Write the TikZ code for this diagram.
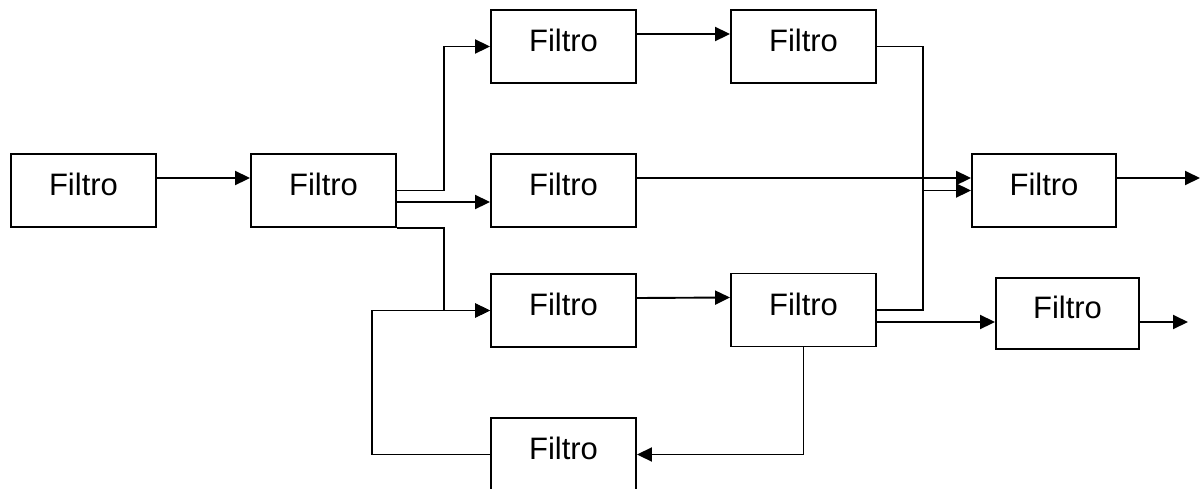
\documentclass[tikz,border=0pt]{standalone}
\usepackage{fontspec}
\setmainfont{Liberation Sans}
\usetikzlibrary{arrows.meta,calc}
\begin{document}
\begin{tikzpicture}[x=1pt,y=-1pt,
  filt/.style={draw,line width=1.9pt,minimum width=145pt,minimum height=73pt,inner sep=0pt,text depth=11.5pt,font=\fontsize{31}{36}\selectfont},
  wire/.style={line width=1.9pt},
  arr/.style={wire,-{Triangle[length=15pt,width=14pt]}}]
\useasboundingbox (0,0) rectangle (1200,488);
\node[filt] (A) at (83.5,190.5) {Filtro};
\node[filt] (B) at (323.5,190.5) {Filtro};
\node[filt] (C) at (563.5,46.5) {Filtro};
\node[filt] (D) at (563.5,190.5) {Filtro};
\node[filt] (E) at (563.5,310.5) {Filtro};
\node[filt] (F) at (803.5,46.5) {Filtro};
\node[filt] (G) at (803.5,310) {Filtro};
\node[filt] (H) at (563.5,454.5) {Filtro};
\node[filt,minimum width=144pt] (I) at (1044,190.5) {Filtro};
\node[filt,minimum width=143pt,minimum height=71pt] (J) at (1067.5,313.5) {Filtro};
\coordinate (merge) at (923,190.5);
\coordinate (loop) at (372,454.5);
\coordinate (out1) at (1200,178);
\coordinate (out2) at (1188,322);
% connectors
\draw[arr] ([yshift=12.5pt]A.east) -- ([yshift=12.5pt]B.west);
\draw[arr] (B.east) -- ++(47,0) |- (C.west);
\draw[arr] ([yshift=-11.5pt]B.east) -- ([yshift=-11.5pt]D.west);
\draw[arr] (B.south east) -- ++(47,0) |- (E.west);
\draw[arr] ([yshift=12.5pt]C.east) -- ([yshift=12.5pt]F.west);
\draw[wire] (F.east) -| (merge);
\draw[wire] (G.east) -| (merge);
\draw[arr] (merge) -- (I.west);
\draw[arr] ([yshift=12.5pt]D.east) -- ([yshift=12.5pt]I.west);
\draw[arr] ([yshift=12.5pt]E.east) -- ([yshift=12.5pt]G.west);
\draw[arr] ([yshift=-12pt]G.east) -- ([yshift=-12pt]G.east -| J.west);
\draw[arr] (G.south) |- (H.east);
\draw[arr] (H.west) -- (loop) |- (E.west);
\draw[arr] ([yshift=12.5pt]I.east) -- (out1);
\draw[arr] (J.east |- out2) -- (out2);
\end{tikzpicture}
\end{document}
